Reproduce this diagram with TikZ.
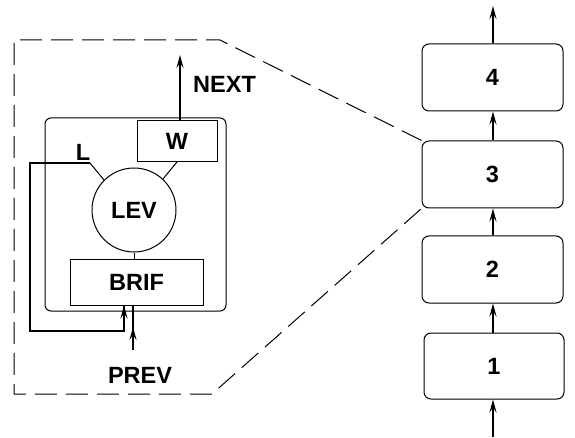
\documentclass[tikz,border=0pt]{standalone}
\usepackage{fontspec}
\setmainfont{Liberation Sans}
\usetikzlibrary{arrows.meta,calc}
\begin{document}
\begin{tikzpicture}[x=1pt,y=-1pt,
  lbl/.style={font=\fontsize{23.5}{26}\selectfont\bfseries, inner sep=0pt},
  rbox/.style={draw, line width=1pt, rounded corners=7pt, minimum width=141pt, minimum height=67pt, lbl},
  sbox/.style={draw, line width=1pt, lbl},
  thin/.style={line width=1pt},
  thk/.style={line width=2.2pt},
  arr/.style={thk, -{Stealth[length=13pt,width=7pt,inset=5pt]}},
  dsh/.style={line width=1pt, dash pattern=on 22pt off 9pt}]
\useasboundingbox (0,0) rectangle (575,438);
% right column
\node[rbox] (b4) at (492.5,77.5) {4};
\node[rbox] (b3) at (492.5,174.5) {3};
\node[rbox] (b2) at (492.5,269.5) {2};
\node[rbox, minimum width=140pt, minimum height=66pt] (b1) at (494,366) {1};
\coordinate (topend) at (493,6);
\coordinate (botstart) at (493,437);
\draw[arr] (b4.north -| topend) -- (topend);
\draw[arr] (b3.north -| topend) -- (b4.south -| topend);
\draw[arr] (b2.north -| topend) -- (b3.south -| topend);
\draw[arr] (b1.north -| topend) -- (b2.south -| topend);
\draw[arr] (botstart) -- (b1.south -| botstart);
% dashed zoom outline
\coordinate (d1) at (220,40);
\coordinate (d2) at (14,40);
\coordinate (d3) at (14,394);
\coordinate (d4) at (212,394);
\draw[dsh] (b3.north west) -- (d1) -- (d2) -- (d3) -- (d4) -- (b3.south west);
% inner module
\node[draw, thin, rounded corners=6pt, minimum width=181pt, minimum height=193pt, inner sep=0pt] (mod) at (135.5,214.5) {};
\node[sbox, minimum width=80pt, minimum height=41pt] (w) at (177,141.5) {W};
\node[draw, thin, circle, minimum size=84pt, inner sep=0pt, lbl] (lev) at (134,210) {LEV};
\node[sbox, minimum width=133pt, minimum height=46pt] (brif) at (136.5,282) {BRIF};
\node[lbl, anchor=west] (next) at (193,84) {NEXT};
\node[lbl] (lab) at (83,152) {L};
\node[lbl] (prev) at (140,375) {PREV};
% connections
\coordinate (nextend) at (180,55);
\draw[arr] (w.north -| nextend) -- (nextend);
\coordinate (wc) at (177,162);
\draw[thin] (wc) -- (lev.47);
\draw[thin] (lev.south) -- (lev.south |- brif.north);
\coordinate (lk) at (90,163);
\draw[thin] (lev.135) -- (lk);
\coordinate (l1) at (30,163);
\coordinate (l2) at (30,331);
\coordinate (l3) at (124,331);
\draw[thk] (lk) -- (l1) -- (l2) -- (l3) -- (l3 |- brif.south);
\draw[arr] (l3) -- (l3 |- brif.south);
\coordinate (p0) at (133,350);
\coordinate (pm) at (133,327);
\draw[thk] (p0) -- (p0 |- brif.south);
\draw[arr] (p0) -- (pm);
\end{tikzpicture}
\end{document}
